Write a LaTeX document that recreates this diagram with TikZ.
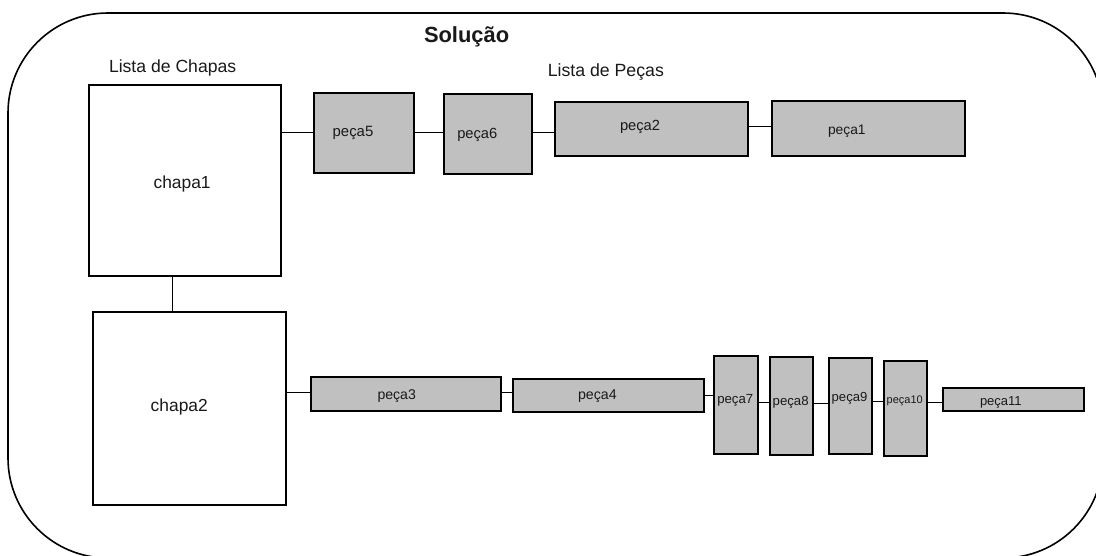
\documentclass[tikz,border=0pt]{standalone}
\usepackage{fontspec}
\setmainfont{Liberation Sans}
\usetikzlibrary{fit}
\definecolor{boxgray}{HTML}{C0C0C0}
\newcommand\fsz[1]{\fontsize{#1}{#1}\selectfont}
\tikzset{
  outerframe/.style={line width=1.6pt, rounded corners=100pt},
  chapabox/.style={draw, line width=2pt, fill=white, inner sep=0pt, outer sep=0pt},
  pecabox/.style={draw, line width=2pt, fill=boxgray, inner sep=0pt, outer sep=0pt},
  link/.style={line width=1pt},
  lbl/.style={anchor=base west, inner sep=0pt, outer sep=0pt, text=black!90}
}
\begin{document}
\begin{tikzpicture}[x=1pt,y=-1pt]
\useasboundingbox (0,0) rectangle (1096,556);
\begin{scope}
  \clip (0,0) rectangle (1096,556);
  \draw[outerframe] (8,13) rectangle (1103,558);
\end{scope}

% boxes
\node[chapabox, fit={(89.3,85.5) (280.5,276)}] (c1) {};
\node[chapabox, fit={(92.8,312.5) (285.5,505)}] (c2) {};
\node[pecabox, fit={(314,93) (414,173)}] (p5) {};
\node[pecabox, fit={(443.5,94) (531.5,174.5)}] (p6) {};
\node[pecabox, fit={(555,102.3) (747.5,156)}] (p2) {};
\node[pecabox, fit={(772,101) (965,155.7)}] (p1) {};
\node[pecabox, fit={(310.7,377) (500.7,411.3)}] (p3) {};
\node[pecabox, fit={(513.4,379) (703.8,412.3)}] (p4) {};
\node[pecabox, fit={(714,356) (758,453.7)}] (p7) {};
\node[pecabox, fit={(770,357.3) (813,454.7)}] (p8) {};
\node[pecabox, fit={(829,358) (872,453.7)}] (p9) {};
\node[pecabox, fit={(884,360.7) (927,455.7)}] (p10) {};
\node[pecabox, fit={(942.5,388.3) (1084,411.3)}] (p11) {};

% connectors
\draw[link] (c1.east |- 0,133) -- (p5.west |- 0,133);
\draw[link] (p5.east |- 0,133) -- (p6.west |- 0,133);
\draw[link] (p6.east |- 0,132.3) -- (p2.west |- 0,132.3);
\draw[link] (p2.east |- 0,126.7) -- (p1.west |- 0,126.7);
\draw[link] (c1.south -| 172.7,0) -- (c2.north -| 172.7,0);
\draw[link] (c2.east |- 0,392.3) -- (p3.west |- 0,392.3);
\draw[link] (p3.east |- 0,392.3) -- (p4.west |- 0,392.3);
\draw[link] (p4.east |- 0,395) -- (p7.west |- 0,395);
\draw[link] (p7.east |- 0,402.7) -- (p8.west |- 0,402.7);
\draw[link] (p8.east |- 0,403.3) -- (p9.west |- 0,403.3);
\draw[link] (p9.east |- 0,401) -- (p10.west |- 0,401);
\draw[link] (p10.east |- 0,402.3) -- (p11.west |- 0,402.3);

% labels
\node[lbl, font=\fsz{21.9}\bfseries] (tsol) at (424,42.7) {Solução};
\node[lbl, font=\fsz{17.6}] (tlc) at (109,72.3) {Lista de Chapas};
\node[lbl, font=\fsz{17.7}] (tlp) at (547.8,76.7) {Lista de Peças};
\node[lbl, font=\fsz{17.4}] (tc1) at (153.6,189) {chapa1};
\node[lbl, font=\fsz{17.4}] (tc2) at (150.7,411.7) {chapa2};
\node[lbl, font=\fsz{14.9}] (t5) at (332.7,136.7) {peça5};
\node[lbl, font=\fsz{14.7}] (t6) at (457.3,138.5) {peça6};
\node[lbl, font=\fsz{14.7}] (t2) at (620,130.7) {peça2};
\node[lbl, font=\fsz{13.8}] (t1) at (828,135) {peça1};
\node[lbl, font=\fsz{14.1}] (t3) at (377.5,399.5) {peça3};
\node[lbl, font=\fsz{14.2}] (t4) at (578,399.3) {peça4};
\node[lbl, font=\fsz{13.2}] (t7) at (717.3,403.3) {peça7};
\node[lbl, font=\fsz{13.2}] (t8) at (772.7,405.7) {peça8};
\node[lbl, font=\fsz{13.1}] (t9) at (831.7,401) {peça9};
\node[lbl, font=\fsz{11}] (t10) at (886.7,403.3) {peça10};
\node[lbl, font=\fsz{13.0}] (t11) at (980,405.7) {peça11};
\end{tikzpicture}
\end{document}
